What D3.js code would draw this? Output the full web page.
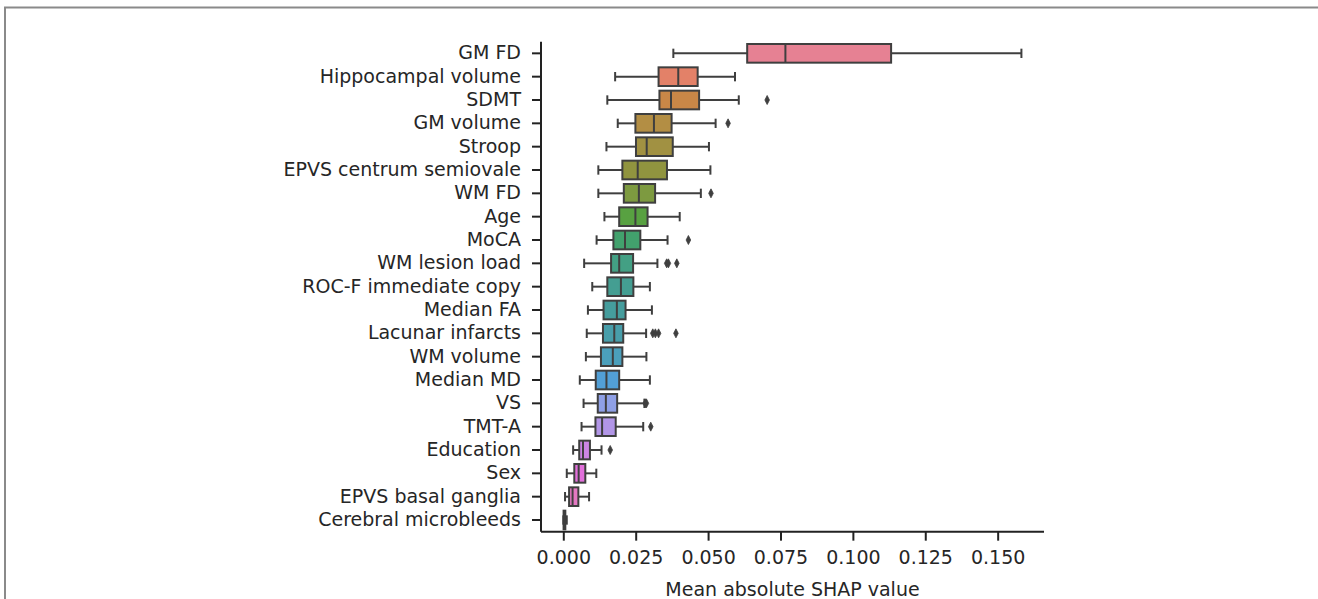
<!DOCTYPE html>
<html>
<head>
<meta charset="utf-8">
<script src="https://cdn.jsdelivr.net/npm/d3@7"></script>
<style>
html,body{margin:0;padding:0;background:#fff;}
svg{display:block;}
text{font-family:"DejaVu Sans",sans-serif;fill:#262626;}
</style>
</head>
<body>
<svg id="chart" width="1318" height="599"></svg>
<script>
const categories = ["GM FD","Hippocampal volume","SDMT","GM volume","Stroop","EPVS centrum semiovale","WM FD","Age","MoCA","WM lesion load","ROC-F immediate copy","Median FA","Lacunar infarcts","WM volume","Median MD","VS","TMT-A","Education","Sex","EPVS basal ganglia","Cerebral microbleeds"];
const whiskerLow  = [0.0380,0.0179,0.0152,0.0188,0.0149,0.0121,0.0121,0.0142,0.0115,0.0072,0.0100,0.0085,0.0081,0.0078,0.0057,0.0070,0.0063,0.0034,0.0012,0.0006,0.0000];
const q1Values    = [0.0635,0.0329,0.0332,0.0249,0.0251,0.0204,0.0209,0.0193,0.0173,0.0165,0.0152,0.0139,0.0137,0.0130,0.0112,0.0119,0.0111,0.0055,0.0038,0.0020,0.0001];
const medianValues= [0.0767,0.0397,0.0372,0.0313,0.0288,0.0257,0.0261,0.0249,0.0213,0.0193,0.0199,0.0185,0.0176,0.0171,0.0149,0.0147,0.0134,0.0068,0.0053,0.0032,0.0003];
const q3Values    = [0.1132,0.0464,0.0469,0.0374,0.0378,0.0358,0.0317,0.0291,0.0266,0.0241,0.0242,0.0215,0.0207,0.0204,0.0193,0.0186,0.0181,0.0092,0.0076,0.0052,0.0007];
const whiskerHigh = [0.1582,0.0593,0.0606,0.0526,0.0503,0.0508,0.0475,0.0402,0.0360,0.0325,0.0299,0.0306,0.0286,0.0287,0.0299,0.0280,0.0276,0.0132,0.0114,0.0089,0.0012];
const outliers    = [[],[],[0.0704],[0.0569],[],[],[0.0510],[],[0.0432],[0.0357,0.0363,0.0392],[],[],[0.0309,0.0318,0.0329,0.0389],[],[],[0.0283,0.0287],[0.0302],[0.0162],[],[],[]];
const xTicks = [0,0.025,0.05,0.075,0.1,0.125,0.15];
const xLabel = "Mean absolute SHAP value";

// ---- HUSL (HSLuv) colour conversion, as used by seaborn's husl palette ----
const M = [[3.240969941904521,-1.537383177570093,-0.498610760293],
           [-0.96924363628087,1.87596750150772,0.041555057407175],
           [0.055630079696993,-0.20397695888897,1.056971514242878]];
const refU = 0.19783000664283, refV = 0.46831999493879, kappa = 903.2962962, eps = 0.0088564516;
function bounds(L){
  const sub1 = Math.pow(L+16,3)/1560896;
  const sub2 = sub1 > eps ? sub1 : L/kappa;
  const res = [];
  for (let c=0;c<3;c++){
    const [m1,m2,m3] = M[c];
    for (let t=0;t<2;t++){
      const top1 = (284517*m1 - 94839*m3)*sub2;
      const top2 = (838422*m3 + 769860*m2 + 731718*m1)*L*sub2 - 769860*t*L;
      const bottom = (632260*m3 - 126452*m2)*sub2 + 126452*t;
      res.push([top1/bottom, top2/bottom]);
    }
  }
  return res;
}
function maxChroma(L,H){
  const hr = H/360*Math.PI*2;
  let min = Infinity;
  for (const [s,i] of bounds(L)){
    const len = i/(Math.sin(hr) - s*Math.cos(hr));
    if (len >= 0 && len < min) min = len;
  }
  return min;
}
function huslToRgb(H,S,L){
  let C = (L>99.9999999||L<1e-8) ? 0 : maxChroma(L,H)/100*S;
  const hr = H/360*Math.PI*2;
  const U = C*Math.cos(hr), V = C*Math.sin(hr);
  if (L===0) return [0,0,0];
  const vu = U/(13*L)+refU, vv = V/(13*L)+refV;
  const Y = L<=8 ? L/kappa : Math.pow((L+16)/116,3);
  const X = -(9*Y*vu)/((vu-4)*vv - vu*vv);
  const Z = (9*Y - 15*vv*Y - vv*X)/(3*vv);
  return M.map(r => {
    const c = r[0]*X + r[1]*Y + r[2]*Z;
    const v = c <= 0.0031308 ? 12.92*c : 1.055*Math.pow(c,1/2.4) - 0.055;
    return Math.max(0,Math.min(1,v));
  });
}
const n = categories.length;
const colors = d3.range(n).map(i => {
  let h = (i/n + 0.01) % 1 * 359;
  const rgb = huslToRgb(h, 0.9*99, 0.65*99);
  const c = d3.hsl(d3.rgb(rgb[0]*255, rgb[1]*255, rgb[2]*255));
  c.s *= 0.75;
  return c;
});
const minL = d3.min(colors, c => c.l);
const g = Math.round(minL*0.6*255);
const gray = d3.rgb(g,g,g).toString();

// ---- chart ----
const svg = d3.select("#chart");
// frame
svg.append("path").attr("d","M5,599 V7.5 H1318").attr("fill","none").attr("stroke","#8a8a8a").attr("stroke-width",2);

const x = d3.scaleLinear().domain([-0.0077, 0.166]).range([541, 1044]);
const y = d3.scaleBand().domain(categories).range([41.67, 531.67]).paddingInner(0.2).paddingOuter(0.1);
const bw = y.bandwidth();
const plotTop = 41.67, plotBottom = 531.67;

const boxes = svg.append("g");
categories.forEach((cat,i) => {
  const yc = y(cat) + bw/2;
  const gg = boxes.append("g");
  // whiskers
  gg.append("line").attr("x1",x(whiskerLow[i])).attr("x2",x(q1Values[i])).attr("y1",yc).attr("y2",yc)
    .attr("stroke",gray).attr("stroke-width",2);
  gg.append("line").attr("x1",x(q3Values[i])).attr("x2",x(whiskerHigh[i])).attr("y1",yc).attr("y2",yc)
    .attr("stroke",gray).attr("stroke-width",2);
  // caps
  [whiskerLow[i], whiskerHigh[i]].forEach(v => {
    gg.append("line").attr("x1",x(v)).attr("x2",x(v)).attr("y1",yc-bw/4).attr("y2",yc+bw/4)
      .attr("stroke",gray).attr("stroke-width",2);
  });
  // box
  gg.append("rect").attr("x",x(q1Values[i])).attr("y",y(cat))
    .attr("width",Math.max(0.5,x(q3Values[i])-x(q1Values[i]))).attr("height",bw)
    .attr("fill",colors[i]).attr("stroke",gray).attr("stroke-width",2);
  // median
  gg.append("line").attr("x1",x(medianValues[i])).attr("x2",x(medianValues[i]))
    .attr("y1",y(cat)).attr("y2",y(cat)+bw).attr("stroke",gray).attr("stroke-width",2);
  // outliers (thin diamonds)
  outliers[i].forEach(v => {
    const cx = x(v);
    gg.append("path").attr("d",`M${cx},${yc-4.5} L${cx+2.3},${yc} L${cx},${yc+4.5} L${cx-2.3},${yc} Z`)
      .attr("fill",gray).attr("stroke",gray).attr("stroke-width",0.8);
  });
});

// axes
const xAxis = svg.append("g").attr("transform",`translate(0,${plotBottom})`)
  .call(d3.axisBottom(x).tickValues(xTicks).tickFormat(d3.format(".3f")).tickSizeOuter(0).tickSize(9).tickPadding(10));
const yAxis = svg.append("g").attr("transform",`translate(541,0)`)
  .call(d3.axisLeft(y).tickSizeOuter(0).tickSize(9).tickPadding(11));
[xAxis,yAxis].forEach(a => {
  a.select(".domain").attr("stroke","#222").attr("stroke-width",2);
  a.selectAll(".tick line").attr("stroke","#222").attr("stroke-width",2);
  a.selectAll(".tick text").attr("font-family","DejaVu Sans").attr("font-size",19).attr("fill","#262626");
});
yAxis.select(".domain").attr("d",`M0,${plotTop}V${plotBottom}`);
xAxis.select(".domain").attr("d",`M541,0H1044`);

svg.append("text").attr("x",792.5).attr("y",596).attr("text-anchor","middle")
  .attr("font-size",19).text(xLabel);
</script>
</body>
</html>
